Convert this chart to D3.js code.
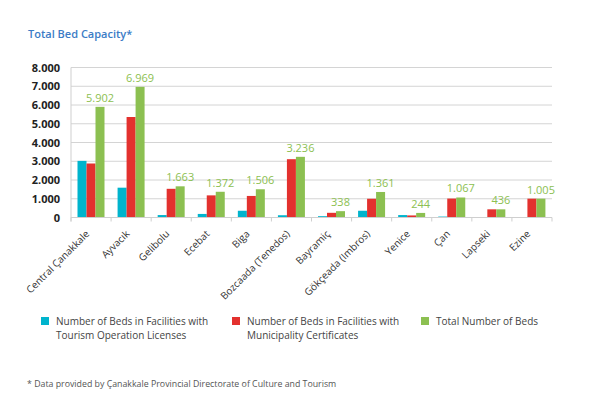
<!DOCTYPE html>
<html>
<head>
<meta charset="utf-8">
<script src="https://cdn.jsdelivr.net/npm/d3@7"></script>
<style>
  body { margin: 0; background: #fff; }
  svg { display: block; font-family: "Open Sans", sans-serif; }
</style>
</head>
<body>
<div id="chart"></div>
<script>
const categories = ["Central Çanakkale", "Ayvacık", "Gelibolu", "Ecebat", "Biga", "Bozcaada (Tenedos)",
  "Bayramiç", "Gökçeada (Imbros)", "Yenice", "Çan", "Lapseki", "Ezine"];
const tourismBeds = [3020, 1590, 130, 190, 360, 120, 70, 360, 130, 50, 0, 0];
const municipalityBeds = [2880, 5360, 1530, 1180, 1150, 3110, 250, 1000, 110, 1010, 436, 1005];
const totalBeds = [5902, 6969, 1663, 1372, 1506, 3236, 338, 1361, 244, 1067, 436, 1005];
const yTicks = [0, 1000, 2000, 3000, 4000, 5000, 6000, 7000, 8000];

const seriesNames = [
  ["Number of Beds in Facilities with", "Tourism Operation Licenses"],
  ["Number of Beds in Facilities with", "Municipality Certificates"],
  ["Total Number of Beds"]
];
const colors = ["#00b4cd", "#e3312e", "#8cc051"];

const locale = d3.formatLocale({ decimal: ",", thousands: ".", grouping: [3], currency: ["", ""] });
const fmt = locale.format(",d");

const svg = d3.select("#chart").append("svg")
  .attr("width", 595)
  .attr("height", 395);

const plotLeft = 71, plotRight = 552, plotTop = 67.5, plotBottom = 217.5;

const x0 = d3.scaleBand().domain(categories).range([plotLeft, plotRight]).padding(0);
const x1 = d3.scaleBand().domain([0, 1, 2]).range([6.5, 33.5]);
const y = d3.scaleLinear().domain([0, 8000]).range([plotBottom, plotTop]);

// title
svg.append("text")
  .attr("x", 28).attr("y", 38)
  .attr("fill", "#3b7cc6")
  .attr("font-size", 11)
  .attr("font-weight", 600)
  .text("Total Bed Capacity*");

// gridlines
svg.append("g")
  .selectAll("line")
  .data(yTicks)
  .enter().append("line")
  .attr("x1", plotLeft).attr("x2", plotRight)
  .attr("y1", d => y(d)).attr("y2", d => y(d))
  .attr("stroke", "#d4d4d4")
  .attr("stroke-width", 1);

// y axis
const yAxis = svg.append("g")
  .attr("transform", `translate(${plotLeft},0)`)
  .call(d3.axisLeft(y).tickValues(yTicks).tickFormat(fmt).tickSize(0).tickPadding(11));
yAxis.select(".domain").attr("stroke", "#cfcfcf").attr("d", `M0,${plotTop}V${plotBottom + 4}`);
yAxis.selectAll("text")
  .attr("font-family", "Open Sans, sans-serif")
  .attr("font-size", 11)
  .attr("font-weight", 700)
  .attr("fill", "#222");

// bars
const groups = svg.append("g")
  .selectAll("g")
  .data(categories)
  .enter().append("g")
  .attr("transform", d => `translate(${x0(d)},0)`);

groups.selectAll("rect")
  .data((d, i) => [tourismBeds[i], municipalityBeds[i], totalBeds[i]])
  .enter().append("rect")
  .attr("x", (d, j) => x1(j))
  .attr("width", x1.bandwidth())
  .attr("y", d => y(d))
  .attr("height", d => plotBottom - y(d))
  .attr("fill", (d, j) => colors[j]);

// value labels on total bars
svg.append("g")
  .selectAll("text")
  .data(categories)
  .enter().append("text")
  .attr("x", d => x0(d) + x1(2) + x1.bandwidth() / 2)
  .attr("y", (d, i) => y(totalBeds[i]) - 5)
  .attr("text-anchor", "middle")
  .attr("font-size", 11)
  .attr("fill", colors[2])
  .text((d, i) => fmt(totalBeds[i]));

// x axis
const xAxis = svg.append("g").attr("transform", `translate(0,${plotBottom})`);
xAxis.append("line")
  .attr("x1", plotLeft).attr("x2", plotRight)
  .attr("stroke", "#cfcfcf");
xAxis.selectAll("line.tick")
  .data(categories.concat([null]))
  .enter().append("line")
  .attr("class", "tick")
  .attr("x1", d => d === null ? plotRight : x0(d))
  .attr("x2", d => d === null ? plotRight : x0(d))
  .attr("y1", 0).attr("y2", 4)
  .attr("stroke", "#cfcfcf");
xAxis.selectAll("text")
  .data(categories)
  .enter().append("text")
  .attr("text-anchor", "end")
  .attr("font-size", 10)
  .attr("fill", "#333")
  .attr("transform", d => `translate(${x0(d) + x0.bandwidth() / 2 - 1},17) rotate(-45)`)
  .text(d => d);

// legend
const legendX = [41, 232, 421];
const legend = svg.append("g")
  .selectAll("g")
  .data(seriesNames)
  .enter().append("g")
  .attr("transform", (d, i) => `translate(${legendX[i]},317)`);
legend.append("rect")
  .attr("width", 8).attr("height", 8)
  .attr("fill", (d, i) => colors[i]);
legend.selectAll("text")
  .data(d => d)
  .enter().append("text")
  .attr("x", 15)
  .attr("y", (d, i) => 8 + i * 13.5)
  .attr("font-size", 10)
  .attr("fill", "#444")
  .text(d => d);

// footnote
svg.append("text")
  .attr("x", 27).attr("y", 387)
  .attr("font-size", 8.8)
  .attr("fill", "#555")
  .text("* Data provided by Çanakkale Provincial Directorate of Culture and Tourism");
</script>
</body>
</html>
